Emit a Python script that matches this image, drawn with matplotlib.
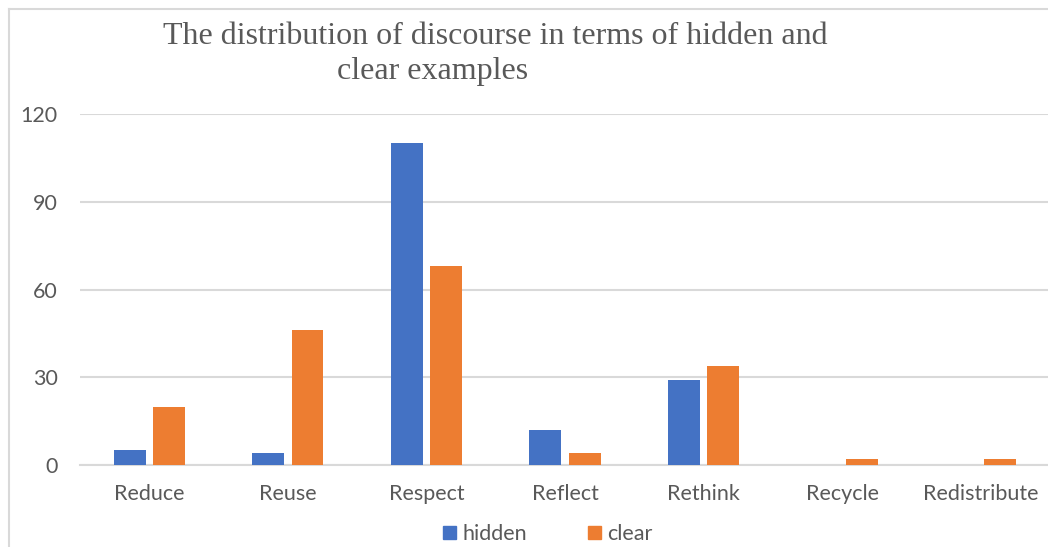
import numpy as np
import matplotlib
matplotlib.use("Agg")
import matplotlib.pyplot as plt
from matplotlib.lines import Line2D
from matplotlib.patches import Patch

categories = ["Reduce", "Reuse", "Respect", "Reflect", "Rethink", "Recycle", "Redistribute"]
hidden = [5, 4, 110, 12, 29, 0, 0]
clear = [20, 46, 68, 4, 34, 2, 2]
yticks = [0, 30, 60, 90, 120]

blue = "#4472C4"
orange = "#ED7D31"
text_gray = "#595959"
grid_gray = "#D9D9D9"

W, H = 1048, 547
fig = plt.figure(figsize=(W / 100, H / 100), dpi=100)

# chart area frame (left and top edges visible)
fig.add_artist(Line2D([9 / W, 9 / W], [0, 1 - 9 / H], color=grid_gray, lw=1.5))
fig.add_artist(Line2D([9 / W, 1], [1 - 9 / H, 1 - 9 / H], color=grid_gray, lw=1.5))

ax = fig.add_axes([80 / W, 1 - 465 / H, 1 - 80 / W + 2 / W, (465 - 114) / H])

x = np.arange(len(categories))
w = 0.23
off = 0.142
ax.bar(x - off, hidden, w, color=blue, zorder=3)
ax.bar(x + off, clear, w, color=orange, zorder=3)

ax.set_xlim(-0.5, len(categories) - 0.5)
ax.set_ylim(0, 120)
ax.set_yticks(yticks)
ax.set_xticks(x)
ax.set_xticklabels(categories)
ax.yaxis.grid(True, color=grid_gray, lw=1.5, zorder=0)
ax.set_axisbelow(True)
for s in ["left", "right", "top"]:
    ax.spines[s].set_visible(False)
ax.spines["bottom"].set_color(grid_gray)
ax.spines["bottom"].set_linewidth(1.5)
ax.tick_params(axis="both", length=0, labelcolor=text_gray, labelsize=15.5)
ax.tick_params(axis="y", pad=16)
ax.tick_params(axis="x", pad=14)
for lab in ax.get_xticklabels() + ax.get_yticklabels():
    lab.set_fontfamily("Lato")

# title in two lines
fig.text(163 / W, 1 - 36 / H, "The distribution of discourse in terms of hidden and",
         fontfamily="Liberation Serif", fontsize=23, color=text_gray, ha="left", va="center")
fig.text(337 / W, 1 - 72 / H, "clear examples",
         fontfamily="Liberation Serif", fontsize=23, color=text_gray, ha="left", va="center")

handles = [Patch(color=blue, label="hidden"), Patch(color=orange, label="clear")]
fig.legend(handles=handles, loc="center", bbox_to_anchor=(548 / W, 1 - 534 / H), ncol=2,
           frameon=False, prop={"family": "Lato", "size": 15.5}, labelcolor=text_gray,
           handlelength=0.6, handleheight=0.6, handletextpad=0.3, columnspacing=2.8,
           borderpad=0)

fig.savefig("out.png", dpi=100)
